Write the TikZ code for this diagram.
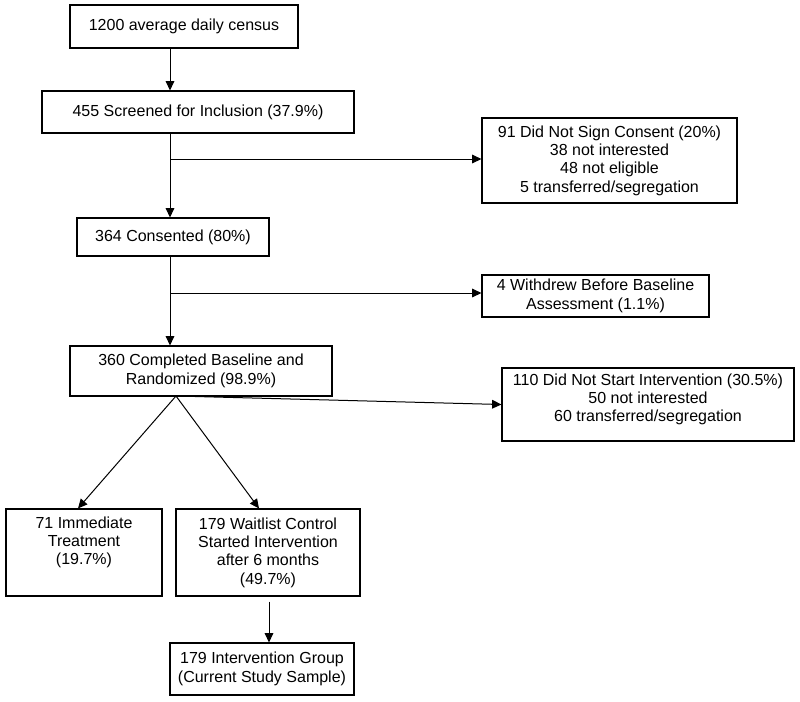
\documentclass[tikz,border=0pt]{standalone}
\usepackage{fontspec}
\setmainfont{Liberation Sans}
\usepackage{tikz}
\usetikzlibrary{calc}
\usetikzlibrary{arrows.meta}

\tikzset{
  box/.style={draw, line width=0.85pt, align=center, inner sep=0pt,
    font=\fontsize{12}{13.8}\selectfont},
  arr/.style={line width=0.75pt, -{Triangle[length=7pt,width=6.5pt]}}
}

\begin{document}
\begin{tikzpicture}[x=0.75pt,y=-0.75pt]
\useasboundingbox (0,0) rectangle (800,701);

\node[box, minimum width=171pt, minimum height=32.25pt] (census) at (184,26.5) {1200 average daily census};
\node[box, minimum width=234pt, minimum height=31.5pt] (screened) at (198,112) {455 Screened for Inclusion (37.9\%)};
\node[box, minimum width=191.25pt, minimum height=63.75pt] (nosign) at (609.5,160.5) {91 Did Not Sign Consent (20\%)\\38 not interested\\48 not eligible\\5 transferred/segregation};
\node[box, minimum width=144pt, minimum height=28.5pt] (consented) at (173,237) {364 Consented (80\%)};
\node[box, minimum width=170.25pt, minimum height=31.5pt] (withdrew) at (595.5,296) {4 Withdrew Before Baseline\\Assessment (1.1\%)};
\node[box, minimum width=196.5pt, minimum height=37.5pt] (randomized) at (201,371) {360 Completed Baseline and\\Randomized (98.9\%)};
\node[box, minimum width=219pt, minimum height=54.75pt] (nostart) at (648,404.5) {110 Did Not Start Intervention (30.5\%)\\50 not interested\\60 transferred/segregation\\[-3.7pt]\mbox{}};
\node[box, minimum width=117pt, minimum height=65.25pt] (immediate) at (84,552.5) {71 Immediate\\Treatment\\(19.7\%)\\[3.8pt]\mbox{}};
\node[box, minimum width=138pt, minimum height=65.25pt] (waitlist) at (268,552.5) {179 Waitlist Control\\Started Intervention\\after 6 months\\(49.7\%)};
\node[box, minimum width=138pt, minimum height=39pt] (group) at (262,669) {179 Intervention Group\\(Current Study Sample)};

\coordinate (spine) at (170,0);
\coordinate (split1) at (170,159);
\coordinate (split2) at (170,293);
\coordinate (apex) at (176,396);

\draw[arr] (census.south -| spine) -- (screened.north -| spine);
\draw[arr] (screened.south -| spine) -- (consented.north -| spine);
\draw[arr] (split1) -- (split1 -| nosign.west);
\draw[arr] (consented.south -| spine) -- (randomized.north -| spine);
\draw[arr] (split2) -- (split2 -| withdrew.west);
\draw[arr] (apex) -- (nostart.west);
\draw[arr] (apex) -- ($(immediate.north)+(-6,0)$);
\draw[arr] (apex) -- ($(waitlist.north)+(-9,0)$);
\draw[arr] ($(waitlist.south)+(1,5)$) -- ($(group.north)+(7,0)$);
\end{tikzpicture}
\end{document}
